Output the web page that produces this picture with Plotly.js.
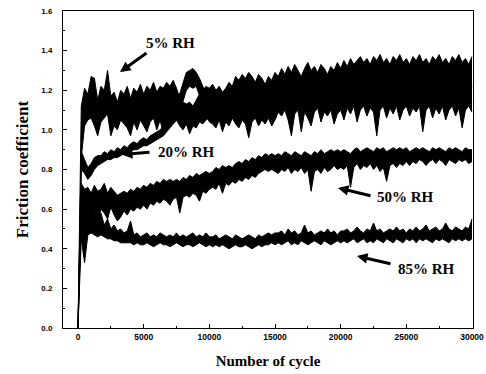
<!DOCTYPE html>
<html>
<head>
<meta charset="utf-8">
<script src="https://cdn.plot.ly/plotly-3.0.1.min.js"></script>
<style>html,body{margin:0;padding:0;background:#fff;}#chart{width:486px;height:374px;}</style>
</head>
<body>
<div id="chart"></div>
<script>
// Number of cycles (sampling of the traces)
const cycles = [0,250,500,750,1000,1250,1500,1750,2000,2250,
2500,2750,3000,3250,3500,3750,4000,4250,4500,4750,
5000,5250,5500,5750,6000,6250,6500,6750,7000,7250,
7500,7750,8000,8250,8500,8750,9000,9250,9500,9750,
10000,10250,10500,10750,11000,11250,11500,11750,12000,12250,
12500,12750,13000,13250,13500,13750,14000,14250,14500,14750,
15000,15250,15500,15750,16000,16250,16500,16750,17000,17250,
17500,17750,18000,18250,18500,18750,19000,19250,19500,19750,
20000,20250,20500,20750,21000,21250,21500,21750,22000,22250,
22500,22750,23000,23250,23500,23750,24000,24250,24500,24750,
25000,25250,25500,25750,26000,26250,26500,26750,27000,27250,
27500,27750,28000,28250,28500,28750,29000,29250,29500,29750,
30000];

// 5% RH : upper / lower envelope of the noisy friction trace
const rh5_hi = [0,1.12,1.21,1.18,1.27,1.26,1.15,1.22,1.20,1.30,
1.17,1.19,1.14,1.20,1.18,1.22,1.16,1.21,1.19,1.23,
1.18,1.22,1.20,1.24,1.19,1.22,1.21,1.24,1.22,1.25,
1.21,1.16,1.14,1.13,1.14,1.12,1.15,1.18,1.20,1.22,
1.21,1.23,1.20,1.22,1.19,1.21,1.24,1.22,1.27,1.25,
1.28,1.26,1.29,1.27,1.24,1.28,1.26,1.23,1.27,1.25,
1.29,1.27,1.31,1.28,1.32,1.29,1.33,1.30,1.27,1.31,
1.34,1.30,1.32,1.29,1.33,1.31,1.28,1.32,1.30,1.34,
1.31,1.35,1.32,1.36,1.33,1.35,1.37,1.34,1.36,1.33,
1.37,1.35,1.38,1.34,1.36,1.33,1.37,1.35,1.38,1.34,
1.36,1.33,1.37,1.35,1.38,1.34,1.36,1.33,1.37,1.35,
1.38,1.34,1.36,1.33,1.37,1.35,1.38,1.34,1.36,1.33,
1.37];
const rh5_lo = [0,0.86,1.02,1.05,1.06,1.02,0.97,1.04,1.06,1.08,
0.97,1.02,1.00,1.05,1.03,1.01,0.97,1.04,1.00,1.05,
1.02,0.99,1.04,1.06,1.00,1.05,0.98,1.04,1.06,1.03,
1.05,1.02,1.00,1.03,0.98,1.02,1.01,1.04,1.03,1.05,
1.06,1.10,1.08,1.11,1.07,1.10,1.09,1.12,1.10,1.08,
1.11,1.09,1.10,1.12,1.09,1.11,1.10,1.08,1.11,1.09,
1.12,1.10,1.13,1.11,1.12,1.10,1.14,1.12,1.10,1.13,
1.12,1.11,1.14,1.12,1.13,1.11,1.12,1.14,1.11,1.13,
1.12,1.14,1.12,1.15,1.13,1.14,1.12,1.15,1.13,1.14,
1.16,1.13,1.15,1.14,1.12,1.15,1.13,1.14,1.16,1.13,
1.15,1.12,1.14,1.15,1.13,1.14,1.16,1.12,1.14,1.15,
1.13,1.14,1.12,1.15,1.13,1.14,1.16,1.13,1.15,1.12,
1.14];

// 20% RH
const rh20_hi = [0,0.89,0.85,0.81,0.83,0.86,0.87,0.87,0.89,0.88,
0.90,0.89,0.91,0.90,0.92,0.91,0.93,0.94,0.93,0.95,
0.96,0.95,0.97,0.98,0.99,1.00,1.02,1.04,1.07,1.11,
1.13,1.18,1.24,1.29,1.30,1.31,1.29,1.26,1.22,1.18,
1.14,1.16,1.14,1.15,1.13,1.16,1.14,1.15,1.14,1.16,
1.15,1.13,1.14,1.15,1.16,1.14,1.15,1.16,1.14,1.15,
1.16,1.18,1.16,1.19,1.17,1.18,1.19,1.17,1.18,1.20,
1.18,1.19,1.17,1.20,1.18,1.19,1.20,1.18,1.19,1.20,
1.18,1.20,1.21,1.19,1.22,1.20,1.21,1.19,1.22,1.20,
1.21,1.19,1.22,1.20,1.21,1.22,1.20,1.21,1.19,1.22,
1.20,1.21,1.22,1.20,1.21,1.19,1.22,1.20,1.21,1.22,
1.20,1.21,1.19,1.22,1.20,1.21,1.22,1.20,1.21,1.19,
1.22];
const rh20_lo = [0,0.80,0.78,0.75,0.77,0.80,0.82,0.83,0.84,0.85,
0.85,0.86,0.86,0.87,0.88,0.88,0.89,0.90,0.90,0.91,
0.92,0.92,0.93,0.94,0.95,0.96,0.97,0.99,1.01,1.03,
1.05,1.09,1.14,1.20,1.22,1.21,1.22,1.17,1.12,1.08,
1.04,1.03,1.01,1.05,0.99,1.04,1.02,1.06,1.03,1.01,
1.05,1.03,0.96,1.04,1.06,1.02,1.05,1.03,1.06,1.02,
1.05,1.09,1.07,1.10,1.05,0.97,1.08,1.10,0.99,1.09,
1.06,1.02,1.09,1.11,1.04,1.09,1.07,1.10,1.03,1.08,
1.10,1.05,1.11,1.08,1.12,1.04,1.10,1.12,1.07,1.11,
1.09,0.97,1.10,1.12,1.06,1.11,1.08,1.12,1.05,1.10,
1.12,1.07,1.11,1.09,1.12,0.99,1.10,1.12,1.06,1.11,
1.08,1.12,1.05,1.10,1.12,1.07,1.11,1.01,1.10,1.12,
1.09];

// 50% RH
const rh50_hi = [0,0.73,0.70,0.71,0.68,0.72,0.69,0.70,0.73,0.68,
0.71,0.69,0.67,0.68,0.69,0.68,0.70,0.69,0.71,0.70,
0.72,0.71,0.73,0.72,0.74,0.73,0.75,0.74,0.75,0.74,
0.75,0.74,0.76,0.75,0.77,0.76,0.78,0.77,0.78,0.79,
0.78,0.79,0.81,0.80,0.82,0.81,0.82,0.81,0.83,0.84,
0.83,0.85,0.84,0.86,0.85,0.87,0.86,0.88,0.87,0.88,
0.87,0.88,0.87,0.89,0.88,0.87,0.89,0.88,0.87,0.89,
0.88,0.87,0.89,0.88,0.90,0.88,0.89,0.90,0.89,0.90,
0.89,0.90,0.89,0.88,0.90,0.91,0.89,0.90,0.91,0.90,
0.89,0.91,0.90,0.91,0.89,0.90,0.91,0.90,0.91,0.90,
0.91,0.89,0.90,0.91,0.90,0.91,0.90,0.89,0.91,0.90,
0.91,0.90,0.89,0.91,0.90,0.91,0.90,0.89,0.91,0.90,
0.90];
const rh50_lo = [0,0.58,0.56,0.60,0.55,0.61,0.53,0.60,0.58,0.55,
0.61,0.57,0.54,0.56,0.59,0.57,0.60,0.59,0.61,0.60,
0.62,0.60,0.63,0.62,0.64,0.63,0.65,0.64,0.62,0.65,
0.66,0.58,0.66,0.67,0.66,0.68,0.67,0.64,0.69,0.68,
0.70,0.71,0.70,0.73,0.68,0.73,0.72,0.74,0.73,0.75,
0.74,0.76,0.75,0.77,0.76,0.78,0.79,0.80,0.79,0.80,
0.79,0.78,0.80,0.79,0.81,0.78,0.80,0.79,0.81,0.78,
0.80,0.69,0.79,0.80,0.78,0.81,0.79,0.80,0.82,0.80,
0.81,0.80,0.82,0.71,0.81,0.83,0.80,0.82,0.81,0.83,
0.80,0.82,0.79,0.81,0.74,0.82,0.83,0.81,0.83,0.82,
0.84,0.82,0.84,0.83,0.85,0.84,0.82,0.84,0.85,0.83,
0.85,0.84,0.82,0.85,0.84,0.83,0.85,0.84,0.85,0.83,
0.84];

// 85% RH
const rh85_hi = [0,0.62,0.55,0.63,0.56,0.60,0.54,0.58,0.52,0.55,
0.50,0.52,0.49,0.50,0.48,0.49,0.54,0.47,0.48,0.46,
0.47,0.48,0.46,0.47,0.46,0.48,0.47,0.46,0.47,0.46,
0.48,0.46,0.47,0.46,0.47,0.48,0.46,0.47,0.46,0.48,
0.46,0.46,0.47,0.45,0.46,0.47,0.46,0.45,0.47,0.46,
0.45,0.46,0.47,0.46,0.45,0.47,0.46,0.47,0.48,0.47,
0.48,0.48,0.49,0.47,0.50,0.48,0.49,0.47,0.48,0.52,
0.48,0.49,0.47,0.48,0.49,0.48,0.50,0.48,0.49,0.47,
0.49,0.49,0.50,0.48,0.49,0.51,0.49,0.48,0.50,0.49,
0.53,0.49,0.50,0.48,0.49,0.50,0.49,0.51,0.49,0.50,
0.48,0.50,0.49,0.51,0.49,0.50,0.52,0.49,0.50,0.51,
0.49,0.50,0.53,0.50,0.49,0.51,0.50,0.49,0.51,0.50,
0.55];
const rh85_lo = [0,0.45,0.33,0.47,0.48,0.47,0.46,0.47,0.46,0.45,
0.45,0.44,0.44,0.43,0.43,0.43,0.43,0.42,0.43,0.42,
0.42,0.43,0.42,0.41,0.42,0.43,0.42,0.42,0.41,0.42,
0.43,0.42,0.41,0.42,0.42,0.41,0.42,0.43,0.42,0.41,
0.42,0.41,0.42,0.41,0.42,0.41,0.40,0.41,0.42,0.41,
0.41,0.42,0.41,0.40,0.41,0.42,0.41,0.42,0.42,0.43,
0.42,0.43,0.42,0.43,0.44,0.42,0.43,0.42,0.44,0.43,
0.42,0.43,0.44,0.43,0.42,0.44,0.43,0.42,0.43,0.44,
0.43,0.44,0.43,0.44,0.45,0.43,0.44,0.45,0.43,0.44,
0.43,0.45,0.44,0.43,0.45,0.44,0.43,0.45,0.44,0.43,
0.45,0.44,0.45,0.43,0.45,0.44,0.45,0.44,0.43,0.45,
0.44,0.45,0.44,0.43,0.45,0.44,0.45,0.44,0.45,0.44,
0.45];

const xTickVals = [0,5000,10000,15000,20000,25000,30000];
const xTickText = ["0","5000","10000","15000","20000","25000","30000"];
const seriesLabels = ["5% RH","20% RH","50% RH","85% RH"];

const series = [
  {name: seriesLabels[3], lo: rh85_lo, hi: rh85_hi},
  {name: seriesLabels[2], lo: rh50_lo, hi: rh50_hi},
  {name: seriesLabels[1], lo: rh20_lo, hi: rh20_hi},
  {name: seriesLabels[0], lo: rh5_lo, hi: rh5_hi}
];

const traces = [];
series.forEach(s => {
  traces.push({x: cycles, y: s.lo, type: 'scatter', mode: 'lines', name: s.name,
    line: {color: '#000', width: 1}, hoverinfo: 'skip', showlegend: false});
  traces.push({x: cycles, y: s.hi, type: 'scatter', mode: 'lines', name: s.name,
    fill: 'tonexty', fillcolor: '#000',
    line: {color: '#000', width: 1}, hoverinfo: 'skip', showlegend: false});
});

const labelFont = {family: 'Liberation Serif', size: 15, color: '#000', weight: 'bold'};
function label(t, x, y) {
  return {text: t, x: x, y: y, xref: 'x', yref: 'y', showarrow: false,
    xanchor: 'center', yanchor: 'middle', font: labelFont};
}
function arrow(x, y, ax, ay) {
  return {text: '', x: x, y: y, ax: ax, ay: ay, xref: 'x', yref: 'y', axref: 'x', ayref: 'y',
    showarrow: true, arrowhead: 2, arrowsize: 0.7, arrowwidth: 3, arrowcolor: '#000'};
}

const layout = {
  width: 486, height: 374,
  margin: {l: 63, r: 13, t: 11, b: 46},
  paper_bgcolor: '#fff', plot_bgcolor: '#fff',
  showlegend: false,
  xaxis: {
    range: [-1142, 30076], tickmode: 'array', tickvals: xTickVals, ticktext: xTickText,
    ticks: 'inside', ticklen: 4, tickwidth: 1, tickcolor: '#000',
    minor: {tick0: 0, dtick: 2500, ticks: 'inside', ticklen: 2, tickcolor: '#000'},
    showline: true, mirror: true, linecolor: '#000', linewidth: 1,
    showgrid: false, zeroline: false, automargin: false,
    ticklabelstandoff: 1,
    tickfont: {family: 'Liberation Sans', size: 8.5, color: '#000', weight: 'bold'},
    title: {text: 'Number of cycle', standoff: 14,
      font: {family: 'Liberation Serif', size: 15, color: '#000', weight: 'bold'}}
  },
  yaxis: {
    range: [0, 1.6], tickmode: 'linear', tick0: 0, dtick: 0.2, tickformat: '.1f',
    ticks: 'inside', ticklen: 4, tickwidth: 1, tickcolor: '#000',
    minor: {tick0: 0, dtick: 0.1, ticks: 'inside', ticklen: 2, tickcolor: '#000'},
    showline: true, mirror: true, linecolor: '#000', linewidth: 1,
    showgrid: false, zeroline: false, automargin: false,
    ticklabelstandoff: 8,
    tickfont: {family: 'Liberation Sans', size: 8, color: '#000', weight: 'bold'},
    title: {text: 'Friction coefficient', standoff: 8,
      font: {family: 'Liberation Serif', size: 17, color: '#000', weight: 'bold'}}
  },
  annotations: [
    label(seriesLabels[0], 7005, 1.441), arrow(3198, 1.292, 5330, 1.393),
    label(seriesLabels[1], 8261, 0.888), arrow(3350, 0.876, 5558, 0.888),
    label(seriesLabels[2], 24898, 0.659), arrow(19796, 0.707, 22385, 0.666),
    label(seriesLabels[3], 26535, 0.298), arrow(21243, 0.363, 23908, 0.323)
  ]
};

Plotly.newPlot('chart', traces, layout, {displayModeBar: false, staticPlot: true});
</script>
</body>
</html>
